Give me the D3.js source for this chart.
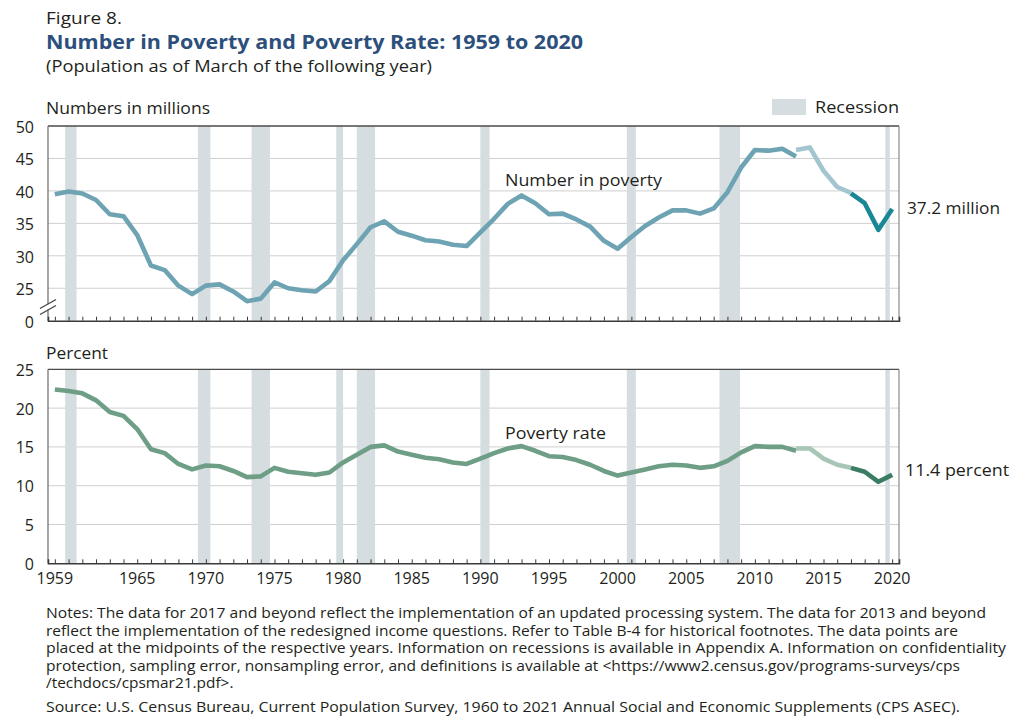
<!DOCTYPE html>
<html><head><meta charset="utf-8">
<script src="https://cdn.jsdelivr.net/npm/d3@7"></script>
<style>
body{margin:0;background:#fff}
svg{display:block}
text{font-family:'Open Sans',sans-serif;fill:#231f20}
</style>
</head><body>
<svg id="chart" width="1024" height="725"></svg>
<script>
// ---------- data ----------
const yearsOld = d3.range(1959, 2014);           // 1959..2013 (original questions)
const numberOld = [39.5,39.9,39.6,38.6,36.4,36.1,33.2,28.5,27.8,25.4,24.1,25.4,25.6,24.5,23.0,23.4,25.9,25.0,24.7,24.5,
  26.1,29.3,31.8,34.4,35.3,33.7,33.1,32.4,32.2,31.7,31.5,33.6,35.7,38.0,39.3,38.1,36.4,36.5,35.6,34.5,
  32.3,31.1,32.9,34.6,35.9,37.0,37.0,36.5,37.3,39.8,43.6,46.3,46.2,46.5,45.3];
const rateOld = [22.4,22.2,21.9,21.0,19.5,19.0,17.3,14.7,14.2,12.8,12.1,12.6,12.5,11.9,11.1,11.2,12.3,11.8,11.6,11.4,
  11.7,13.0,14.0,15.0,15.2,14.4,14.0,13.6,13.4,13.0,12.8,13.5,14.2,14.8,15.1,14.5,13.8,13.7,13.3,12.7,
  11.9,11.3,11.7,12.1,12.5,12.7,12.6,12.3,12.5,13.2,14.3,15.1,15.0,15.0,14.5];
const yearsNew = [2013,2014,2015,2016,2017];      // redesigned income questions
const numberNew = [46.3,46.7,43.1,40.6,39.7];
const rateNew = [14.8,14.8,13.5,12.7,12.3];
const yearsUpd = [2017,2018,2019,2020];           // updated processing system
const numberUpd = [39.6,38.1,34.0,37.2];
const rateUpd = [12.3,11.8,10.5,11.4];

const recessions = [[1960.25,1961.08],[1969.92,1970.83],[1973.83,1975.17],[1980.0,1980.5],[1981.5,1982.83],
  [1990.5,1991.17],[2001.17,2001.83],[2007.92,2009.42],[2020.0,2020.33]];

const tickYears = d3.range(1959, 2021);
const xLabelYears = [1959,1965,1970,1975,1980,1985,1990,1995,2000,2005,2010,2015,2020];
const numberTicks = [20,25,30,35,40,45,50];
const numberTickLabels = ["0","25","30","35","40","45","50"];
const rateTicks = [0,5,10,15,20,25];
const rateTickLabels = ["0","5","10","15","20","25"];

const notes = [
 "Notes: The data for 2017 and beyond reflect the implementation of an updated processing system. The data for 2013 and beyond",
 "reflect the implementation of the redesigned income questions. Refer to Table B-4 for historical footnotes. The data points are",
 "placed at the midpoints of the respective years. Information on recessions is available in Appendix A. Information on confidentiality",
 "protection, sampling error, nonsampling error, and definitions is available at <https://www2.census.gov/programs-surveys/cps",
 "/techdocs/cpsmar21.pdf>."
];
const source = "Source: U.S. Census Bureau, Current Population Survey, 1960 to 2021 Annual Social and Economic Supplements (CPS ASEC).";

// ---------- layout ----------
const svg = d3.select("#chart");
svg.append("rect").attr("width",1024).attr("height",725).attr("fill","#fff");

const x = d3.scaleLinear().domain([1959, 2021]).range([48, 899]);
const xm = yr => x(yr + 0.5);   // data placed at midpoints of years

const recFill = "#d5dde1";

function label(xp, yp, str, size, opts = {}){
  const t = svg.append("text").attr("x", xp).attr("y", yp).style("font-size", size + "px").text(str);
  if (opts.weight) t.style("font-weight", opts.weight);
  if (opts.fill) t.style("fill", opts.fill);
  if (opts.anchor) t.attr("text-anchor", opts.anchor);
  let w = opts.width;
  if (!w && opts.stretch) w = t.node().getComputedTextLength() * opts.stretch;
  if (w) t.attr("textLength", w).attr("lengthAdjust", "spacingAndGlyphs");
  return t;
}

function panel(cfg){
  const g = svg.append("g");
  const y = cfg.y;
  const [yb, yt] = y.range();
  g.selectAll(".grid").data(cfg.ticks.slice(1, -1)).join("line")
    .attr("x1", 48).attr("x2", 899).attr("y1", d=>y(d)).attr("y2", d=>y(d))
    .attr("stroke", "#cfcfcf").attr("stroke-width", 1);
  g.selectAll(".rec").data(recessions).join("rect")
    .attr("x", d=>x(d[0])).attr("width", d=>Math.max(4, x(d[1])-x(d[0])))
    .attr("y", yt).attr("height", yb-yt).attr("fill", recFill);
  g.append("line").attr("x1",48).attr("x2",899).attr("y1",yt).attr("y2",yt).attr("stroke","#4a4a4a").attr("stroke-width",1.3);
  g.append("line").attr("x1",48).attr("x2",48).attr("y1",yt).attr("y2",yb).attr("stroke","#6a6a6a").attr("stroke-width",1.2);
  g.append("line").attr("x1",899).attr("x2",899).attr("y1",yt).attr("y2",yb).attr("stroke","#8a8a8a").attr("stroke-width",1.2);
  const ax = d3.axisBottom(d3.scaleLinear().domain(x.domain()).range(x.range()))
    .tickValues(tickYears.map(t=>t+0.5)).tickSize(-4).tickFormat("");
  const axg = g.append("g").attr("transform",`translate(0,${yb})`).call(ax);
  axg.select(".domain").attr("stroke","#3a3a3a").attr("stroke-width",1.6);
  axg.selectAll(".tick line").attr("stroke","#3a3a3a").attr("stroke-width",1);
  g.selectAll(".ylab").data(cfg.ticks).join("text")
    .attr("x", 34).attr("y", d=>y(d)+cfg.labDy).attr("text-anchor","end")
    .style("font-size","16px").text((d,i)=>cfg.tickLabels[i]);
  const line = d3.line().x(d=>xm(d[0])).y(d=>y(d[1]));
  cfg.series.forEach(s=>{
    g.append("path").datum(d3.zip(s.years, s.values)).attr("d", line)
      .attr("fill","none").attr("stroke", s.color).attr("stroke-width", 4.6)
      .attr("stroke-linejoin","round").attr("stroke-linecap","butt");
  });
  return g;
}

const yTop = d3.scaleLinear().domain([20, 50]).range([320.7, 126]);
const yBot = d3.scaleLinear().domain([0, 25]).range([563.3, 369.3]);

const gTop = panel({y: yTop, ticks: numberTicks, tickLabels: numberTickLabels, labDy: 7,
  series: [
    {years: yearsOld, values: numberOld, color: "#6ea3b4"},
    {years: yearsNew, values: numberNew, color: "#a3c5cf"},
    {years: yearsUpd, values: numberUpd, color: "#1a8797"}
  ]});
const gBot = panel({y: yBot, ticks: rateTicks, tickLabels: rateTickLabels, labDy: 6.5,
  series: [
    {years: yearsOld, values: rateOld, color: "#6e9e86"},
    {years: yearsNew, values: rateNew, color: "#a8c6b6"},
    {years: yearsUpd, values: rateUpd, color: "#3a7d62"}
  ]});

// axis break marks on the top panel
const bY = yTop(22.5);
gTop.append("polygon").attr("points", `${41},${bY+4} ${55},${bY-4} ${55},${bY+1} ${41},${bY+9}`).attr("fill","#fff");
gTop.append("line").attr("x1",40).attr("y1",bY+4).attr("x2",56).attr("y2",bY-5).attr("stroke","#444").attr("stroke-width",1.3);
gTop.append("line").attr("x1",40).attr("y1",bY+10).attr("x2",56).attr("y2",bY+1).attr("stroke","#444").attr("stroke-width",1.3);

// x labels (bottom panel)
svg.selectAll(".xlab").data(xLabelYears).join("text")
  .attr("x", d=>xm(d)).attr("y", 584).attr("text-anchor","middle")
  .style("font-size","16px").text(d=>d);

// titles
label(46, 24, "Figure 8.", 17, {width: 76});
label(46, 49, "Number in Poverty and Poverty Rate: 1959 to 2020", 19, {weight: 700, fill: "#2c4f7c", width: 537});
label(46, 72, "(Population as of March of the following year)", 16, {width: 386});
label(46, 114, "Numbers in millions", 16, {width: 164});
label(46, 359, "Percent", 16, {width: 62});

// legend
svg.append("rect").attr("x",772).attr("y",99).attr("width",34).attr("height",16).attr("fill",recFill);
label(815, 113, "Recession", 16, {width: 84});

// series labels
label(505, 186, "Number in poverty", 16, {width: 157});
label(505, 439, "Poverty rate", 16, {width: 101});
label(907, 214, "37.2 million", 16, {width: 93});
label(905, 476, "11.4 percent", 16, {width: 104});

// notes
const noteWidths = [940, 912, 960, 914, null];
notes.forEach((n, i) => {
  if (noteWidths[i]) label(46, 618 + i*17.5, n, 14, {width: noteWidths[i]});
  else label(46, 618 + i*17.5, n, 14, {stretch: 1.1});
});
label(46, 712, source, 14, {width: 914});
</script>
</body></html>
